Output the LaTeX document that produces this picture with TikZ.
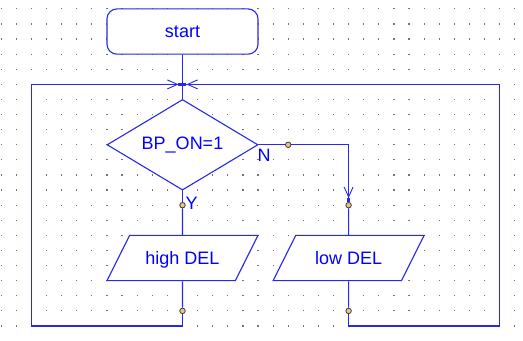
\documentclass[tikz,border=0pt]{standalone}
\usepackage{fontspec}
\setmainfont{Liberation Sans}
\usepackage{tikz}
\usetikzlibrary{arrows.meta,positioning,calc,shapes.geometric}
\definecolor{lineblue}{RGB}{40,40,235}
\definecolor{txtblue}{RGB}{0,0,255}
\definecolor{pinedge}{RGB}{75,58,42}
\definecolor{pinfill}{RGB}{225,200,145}

\begin{document}
\begin{tikzpicture}[x=15.1pt, y=-15.1pt, line width=1.1pt,
	box/.style={draw=lineblue, fill=white, text=txtblue, inner sep=0pt, font=\fontsize{18}{21}\selectfont},
	pin/.style={circle, draw=pinedge, fill=pinfill, line width=0.8pt, minimum size=5.5pt, inner sep=0pt},
	io/.style={box, trapezium, trapezium left angle=63.43, trapezium right angle=116.57, trapezium stretches body=true, minimum width=151pt, text height=29pt, text depth=16.3pt},
	arr/.style={-{Straight Barb[length=10pt,width=9pt,line width=0.9pt] Rectangle[length=4pt,width=3.5pt]}, draw=lineblue}]
	\useasboundingbox (-0.086,-0.589) rectangle (34.55,21.93);
	% dot grid
	\foreach \x in {0,...,34}{\foreach \y in {0,...,21}{\fill[black!55] (\x,\y) +(-0.6pt,-0.6pt) rectangle +(0.6pt,0.6pt);}}
	\node[box, rounded corners=10pt, minimum width=151pt, minimum height=45.3pt] (start) at (12,1.5) {start};
	\node[box, diamond, aspect=1.67, minimum width=151pt, minimum height=90.6pt] (dia) at (12,9) {BP\_ON=1};
	\node[io] (high) at (12,16.5) {high DEL};
	\node[io] (low) at (23,16.5) {low DEL};
	\coordinate (J) at (12,5);
	\node[pin] (cN) at (19,9) {};
	\node[pin] (cN2) at (23,13) {};
	\node[pin] (cY) at (12,13) {};
	\node[pin] (cHb) at (12,20) {};
	\node[pin] (cLb) at (23,20) {};
	\node[text=txtblue, font=\fontsize{18}{21}\selectfont, inner sep=0pt] (lN) at (17.4,9.68) {N};
	\node[text=txtblue, font=\fontsize{18}{21}\selectfont, inner sep=0pt] (lY) at (12.61,12.85) {Y};
	% connectors
	\draw[lineblue] (start) -- (dia);
	\draw[lineblue] (dia.east) -- (cN);
	\draw[arr] (cN) -| (cN2);
	\draw[lineblue] (cN2) -- (low);
	\draw[lineblue] (dia.south) -- (cY);
	\draw[lineblue] (cY) -- (high);
	\draw[lineblue] (high) -- (cHb);
	\draw[lineblue] (low) -- (cLb);
	\draw[arr] (cHb) -- (12,21) -| (2,5) -- (J);
	\draw[arr] (cLb) -- (23,21) -| (33,5) -- (J);
\end{tikzpicture}
\end{document}
